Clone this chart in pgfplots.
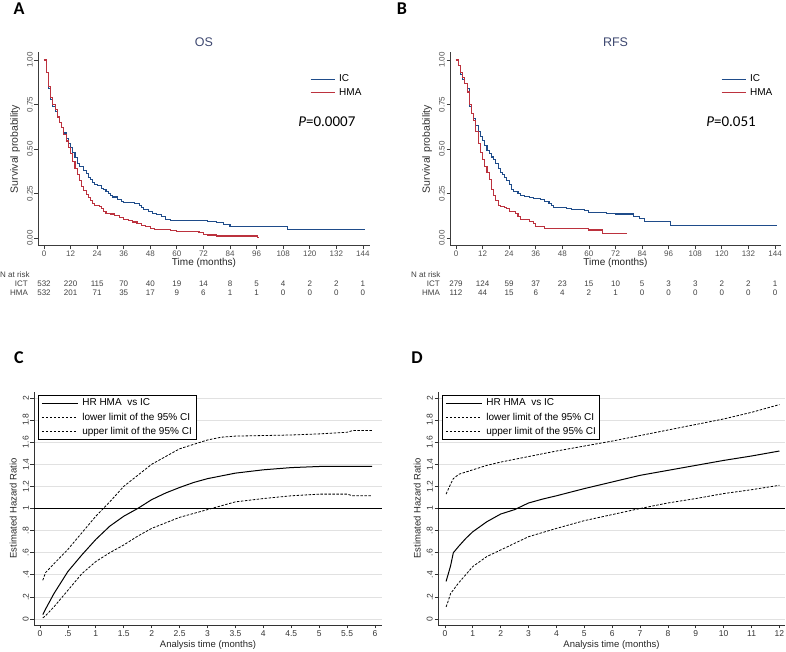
\documentclass[border=0pt]{standalone}
\usepackage{fontspec}
\setmainfont{Liberation Sans}
\newfontfamily\calibri{Carlito}
\usepackage{pgfplots}
\pgfplotsset{compat=1.18}

\definecolor{icblue}{RGB}{31,76,138}
\definecolor{hmared}{RGB}{188,50,62}
\definecolor{titleblue}{RGB}{62,72,112}
\definecolor{axisgray}{RGB}{60,60,60}
\definecolor{tickgray}{RGB}{80,80,80}
\definecolor{gridgray}{RGB}{225,225,225}

\tikzset{risk/.style={font=\fontsize{8}{9}\selectfont, text=black!75, inner sep=0pt}}

\pgfplotsset{
  km/.style={
    scale only axis, width=332pt, height=194pt,
    axis x line*=bottom, axis y line*=left,
    axis line style={-, draw=axisgray, line width=1pt},
    tick align=outside, major tick length=3.5pt,
    tick style={draw=axisgray, line width=0.8pt},
    xmin=-2.7, xmax=147.2, ymin=-0.045, ymax=1.045,
    xtick={0,12,24,36,48,60,72,84,96,108,120,132,144},
    ytick={0,0.25,0.5,0.75,1},
    yticklabels={0.00,0.25,0.50,0.75,1.00},
    /pgf/number format/assume math mode=true,
    ticklabel style={font=\fontsize{8}{9}\selectfont, text=tickgray},
    yticklabel style={rotate=90, anchor=south, inner sep=1.5pt},
    xticklabel style={inner sep=1.5pt},
    xlabel={Time (months)},
    xlabel style={font=\fontsize{10}{12}\selectfont, text=black!85,
      at={(axis description cs:0.5,-0.088)}, anchor=center},
    ylabel={Survival probability},
    ylabel style={font=\fontsize{10.5}{12}\selectfont, text=black!80,
      at={(axis description cs:-0.069,0.5)}, anchor=center},
    title style={font=\fontsize{12.5}{14}\selectfont, text=titleblue,
      at={(axis description cs:0.5,1.020)}, anchor=center},
    legend style={draw=none, fill=none, at={(axis description cs:0.819,0.825)},
      anchor=west, inner sep=0pt, font=\fontsize{10}{12}\selectfont,
      nodes={inner sep=1pt}, row sep=3pt, column sep=3pt},
    legend cell align=left,
    legend image code/.code={\draw[#1] (0pt,0pt) -- (24pt,0pt);},
    clip=false,
  },
  hr/.style={
    scale only axis, height=233pt,
    axis x line*=bottom, axis y line*=left,
    axis line style={-, draw=black!80, line width=0.8pt},
    tick align=outside, major tick length=3.5pt,
    tick style={draw=black!80, line width=0.7pt},
    ymin=-0.054, ymax=2.054,
    ytick={0,0.2,0.4,0.6,0.8,1,1.2,1.4,1.6,1.8,2},
    yticklabels={0,.2,.4,.6,.8,1,1.2,1.4,1.6,1.8,2},
    ymajorgrids, major grid style={gridgray, line width=0.7pt},
    /pgf/number format/assume math mode=true,
    ticklabel style={font=\fontsize{8.5}{10}\selectfont, text=black!80},
    yticklabel style={rotate=90, anchor=south, inner sep=1.5pt},
    xticklabel style={inner sep=1.5pt},
    xlabel={Analysis time (months)},
    xlabel style={font=\fontsize{9.5}{11}\selectfont, text=black!85,
      at={(axis description cs:0.5,-0.086)}, anchor=center},
    ylabel={Estimated Hazard Ratio},
    ylabel style={font=\fontsize{9.5}{11}\selectfont, text=black!85,
      at={(axis description cs:-0.060,0.5)}, anchor=center},
    legend style={draw=black, line width=0.6pt, fill=white,
      at={(axis description cs:0.0115,0.987)}, anchor=north west,
      inner xsep=3pt, inner ysep=2.5pt, nodes={inner sep=1pt},
      row sep=3.5pt, column sep=3pt, font=\fontsize{10}{12}\selectfont},
    legend cell align=left,
    legend image code/.code={\draw[#1] (0pt,0pt) -- (36pt,0pt);},
  },
  hrline/.style={black, line width=1pt},
  ciline/.style={black, line width=0.8pt, dash pattern=on 2.5pt off 1.5pt},
}

\begin{document}
\begin{tikzpicture}
\path[use as bounding box] (0,0) rectangle (786pt,652pt);

% ---------------- A : OS ----------------
\begin{axis}[km, at={(38pt,406pt)}, anchor=south west, title={OS}]
\addplot[const plot, icblue, line width=1.1pt] table {
0 1.0
1 0.93
2 0.84
3 0.78
4 0.74
5 0.71
6 0.68
7 0.65
8 0.62
9 0.59
10 0.56
11 0.53
12 0.51
13 0.48
14 0.45
15 0.42
16 0.40
18 0.38
19 0.36
20 0.34
21 0.33
22 0.31
23 0.30
24 0.295
26 0.28
27 0.27
28 0.26
29 0.25
30 0.24
31 0.23
33 0.215
35 0.205
36 0.20
41 0.195
43 0.18
44 0.17
45 0.16
47 0.15
49 0.14
51 0.13
53 0.12
55 0.105
57 0.10
74 0.093
78 0.085
81 0.075
84 0.065
110 0.046
145 0.046
};
\addlegendentry{IC}
\addplot[const plot, hmared, line width=1.1pt] table {
0 1.0
1 0.93
2 0.85
3 0.79
4 0.75
5 0.72
6 0.68
7 0.65
8 0.62
9 0.58
10 0.545
11 0.51
12 0.475
13 0.43
14 0.39
15 0.355
16 0.325
17 0.29
18 0.265
19 0.245
20 0.225
21 0.21
22 0.195
23 0.18
25 0.175
26 0.165
27 0.15
28 0.14
30 0.135
32 0.125
34 0.115
36 0.105
38 0.10
40 0.09
42 0.082
44 0.072
46 0.063
48 0.055
50 0.05
54 0.048
57 0.04
60 0.036
70 0.033
72 0.022
74 0.017
78 0.011
96.5 0.002
96.6 0.002
};
\addlegendentry{HMA}
\node[font=\calibri\fontsize{15}{16}\selectfont] at (axis description cs:0.870,0.639) {\textit{P}=0.0007};
\node[risk, anchor=west] at (axis description cs:-0.1145,-0.149) {N at risk};
\node[risk, anchor=east] at (axis description cs:-0.030,-0.196) {ICT};
\node[risk, anchor=east] at (axis description cs:-0.030,-0.242) {HMA};
\foreach \x/\n in {0/532,12/220,24/115,36/70,48/40,60/19,72/14,84/8,96/5,108/4,120/2,132/2,144/1}{
  \edef\tmp{\noexpand\node[risk] at (axis cs:\x,-0.258) {\n};}\tmp}
\foreach \x/\n in {0/532,12/201,24/71,36/35,48/17,60/9,72/6,84/1,96/1,108/0,120/0,132/0,144/0}{
  \edef\tmp{\noexpand\node[risk] at (axis cs:\x,-0.309) {\n};}\tmp}
\end{axis}

% ---------------- B : RFS ----------------
\begin{axis}[km, at={(450pt,406pt)}, anchor=south west, width=331pt, xmax=146.7,
  legend style={at={(axis description cs:0.818,0.825)}}, title={RFS}]
\addplot[const plot, icblue, line width=1.1pt] table {
0 1.0
1 0.97
2 0.92
3 0.89
4 0.87
5 0.84
6 0.74
7 0.70
8 0.67
9 0.63
10 0.60
11 0.57
12 0.55
13 0.52
14 0.49
15 0.475
16 0.455
17 0.44
18 0.42
19 0.39
20 0.37
21 0.355
22 0.34
23 0.325
24 0.30
25 0.27
26 0.26
28 0.25
29 0.24
31 0.235
33 0.225
35 0.22
38 0.215
40 0.205
42 0.195
43 0.18
44 0.17
50 0.165
52 0.16
58 0.155
60 0.145
68 0.14
72 0.135
80 0.12
83 0.11
85 0.095
97 0.07
145 0.07
};
\addlegendentry{IC}
\addplot[const plot, hmared, line width=1.1pt] table {
0 1.0
1 0.97
2 0.93
3 0.90
4 0.87
5 0.82
6 0.75
7 0.70
8 0.66
9 0.60
10 0.53
11 0.48
12 0.44
13 0.40
14 0.37
15 0.33
16 0.27
17 0.24
18 0.21
19 0.185
20 0.175
22 0.17
23 0.165
24 0.15
27 0.14
28 0.12
29 0.105
33 0.095
35 0.08
36 0.065
40 0.055
60 0.045
66 0.025
77 0.025
};
\addlegendentry{HMA}
\node[font=\calibri\fontsize{15}{16}\selectfont] at (axis description cs:0.849,0.639) {\textit{P}=0.051};
\node[risk, anchor=west] at (axis description cs:-0.118,-0.149) {N at risk};
\node[risk, anchor=east] at (axis description cs:-0.030,-0.196) {ICT};
\node[risk, anchor=east] at (axis description cs:-0.030,-0.242) {HMA};
\foreach \x/\n in {0/279,12/124,24/59,36/37,48/23,60/15,72/10,84/5,96/3,108/3,120/2,132/2,144/1}{
  \edef\tmp{\noexpand\node[risk] at (axis cs:\x,-0.258) {\n};}\tmp}
\foreach \x/\n in {0/112,12/44,24/15,36/6,48/4,60/2,72/1,84/0,96/0,108/0,120/0,132/0,144/0}{
  \edef\tmp{\noexpand\node[risk] at (axis cs:\x,-0.309) {\n};}\tmp}
\end{axis}

% ---------------- C : HR OS ----------------
\begin{axis}[hr, at={(34pt,27pt)}, anchor=south west, width=348pt,
  xmin=-0.107, xmax=6.125,
  xtick={0,0.5,1,1.5,2,2.5,3,3.5,4,4.5,5,5.5,6},
  xticklabels={0,.5,1,1.5,2,2.5,3,3.5,4,4.5,5,5.5,6}]
\addplot[black, line width=0.8pt, forget plot] coordinates {(-0.107,1) (6.125,1)};
\addplot[hrline] table {
0.05 0.04
0.1 0.09
0.25 0.23
0.5 0.43
0.75 0.58
1 0.72
1.25 0.84
1.5 0.93
1.75 1.00
2 1.08
2.25 1.14
2.5 1.19
2.75 1.235
3 1.27
3.5 1.32
4 1.35
4.5 1.37
5 1.38
5.5 1.38
5.95 1.38
};
\addlegendentry{HR HMA\ \ vs IC}
\addplot[ciline] table {
0.05 0.01
0.1 0.03
0.25 0.11
0.5 0.26
0.75 0.41
1 0.52
1.25 0.60
1.5 0.67
1.75 0.75
2 0.82
2.5 0.92
3 0.99
3.5 1.06
4 1.09
4.5 1.115
5 1.13
5.5 1.13
5.6 1.115
5.95 1.115
};
\addlegendentry{lower limit of the 95\% CI}
\addplot[ciline] table {
0.05 0.35
0.1 0.42
0.25 0.50
0.5 0.63
0.75 0.78
1 0.93
1.25 1.06
1.5 1.20
1.75 1.30
2 1.40
2.25 1.47
2.5 1.54
2.75 1.58
3 1.62
3.25 1.645
3.5 1.655
4 1.66
4.5 1.665
5 1.675
5.5 1.69
5.6 1.705
5.95 1.705
};
\addlegendentry{upper limit of the 95\% CI}
\end{axis}

% ---------------- D : HR RFS ----------------
\begin{axis}[hr, at={(438pt,27pt)}, anchor=south west, width=347pt,
  xmin=-0.25, xmax=12.2,
  xtick={0,1,2,3,4,5,6,7,8,9,10,11,12}]
\addplot[black, line width=0.8pt, forget plot] coordinates {(-0.25,1) (12.2,1)};
\addplot[hrline] table {
0.04 0.34
0.2 0.48
0.3 0.60
0.5 0.66
0.75 0.73
1 0.79
1.5 0.88
2 0.95
2.5 0.99
3 1.05
3.5 1.085
4 1.115
5 1.18
6 1.24
7 1.30
8 1.345
9 1.39
10 1.435
11 1.475
12 1.52
};
\addlegendentry{HR HMA\ \ vs IC}
\addplot[ciline] table {
0.04 0.11
0.1 0.15
0.2 0.23
0.5 0.33
1 0.475
1.5 0.565
2 0.625
3 0.745
4 0.82
5 0.89
6 0.945
7 1.0
8 1.05
9 1.09
10 1.135
11 1.17
12 1.21
};
\addlegendentry{lower limit of the 95\% CI}
\addplot[ciline] table {
0.04 1.13
0.2 1.22
0.3 1.27
0.5 1.31
1 1.35
1.5 1.39
2 1.42
3 1.47
4 1.52
5 1.565
6 1.61
7 1.66
8 1.71
9 1.76
10 1.81
11 1.87
12 1.94
};
\addlegendentry{upper limit of the 95\% CI}
\end{axis}

% panel letters
\node[font=\calibri\bfseries\fontsize{18}{18}\selectfont] at (19pt,643.5pt) {A};
\node[font=\calibri\bfseries\fontsize{18}{18}\selectfont] at (402pt,643.5pt) {B};
\node[font=\calibri\bfseries\fontsize{18}{18}\selectfont] at (19pt,294.5pt) {C};
\node[font=\calibri\bfseries\fontsize{18}{18}\selectfont] at (417pt,294.5pt) {D};
\end{tikzpicture}
\end{document}
